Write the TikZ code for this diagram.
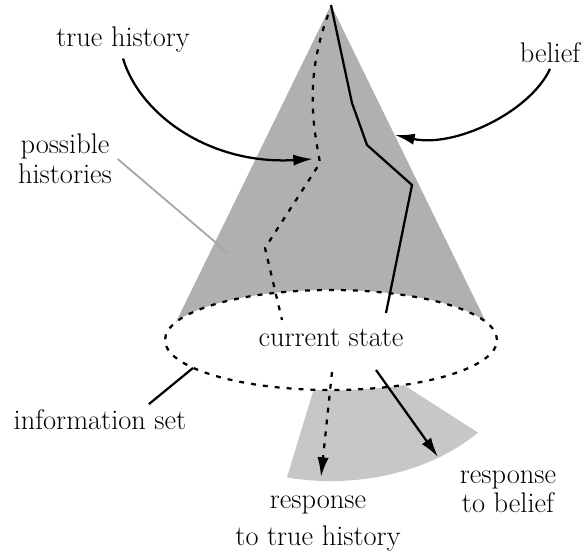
\documentclass[tikz,border=0pt]{standalone}
\usepackage{fontspec}
\usetikzlibrary{arrows.meta}
\begin{document}
\begin{tikzpicture}[font=\fontsize{20.2}{21}\selectfont, line width=1.6pt,
  >={Latex[length=14pt,width=8pt]},
  dots/.style={dash pattern=on 3.5pt off 5pt}]
\useasboundingbox (0,0) rectangle (14.6,13.925);
% cone and response sector
\fill[black!31] (8.275,13.8) -- (4.4,5.875) -- (12.15,5.875) -- cycle;
\fill[black!22] (7.84,4.18) arc[start angle=-96,end angle=-64,x radius=4.15,y radius=1.25]
  -- (11.95,3.11) arc[start angle=-41,end angle=-103,x radius=4.875,y radius=3.525] -- cycle;
\draw[dots, fill=white] (8.275,5.425) ellipse [x radius=4.15, y radius=1.25];
% histories
\draw (8.275,13.8) -- (8.8,11.35) -- (9.175,10.3) -- (10.3,9.3) -- (9.65,6.1);
\draw[dots] (8.2,13.55) .. controls (7.55,11.8) and (7.9,10.5) .. (8.0,9.85)
  -- (6.625,7.725) -- (7.05,5.925);
\draw
  (3.075,12.925) node (truehist) {true history}
  (13.75,12.6) node (belief) {belief}
  (1.625,9.95) node[align=center] (posshist) {possible\\histories}
  (8.275,5.475) node (current) {current state}
  (2.5,3.425) node (infoset) {information set}
  (12.7,1.625) node[align=center] (respbelief) {response\\to belief}
  (7.95,0.8375) node[align=center] (resptrue) {response\\[5pt]to true history}
  ;
\coordinate (thtip) at (7.825,9.95);
\coordinate (beltip) at (9.875,10.55);
\coordinate (posspt) at (5.7,7.6);
\coordinate (infopt) at (4.825,4.725);
\coordinate (rt0) at (8.3,4.625);
\coordinate (rt1) at (8.025,2.0);
\coordinate (rb0) at (9.4,4.675);
\coordinate (rb1) at (10.95,2.5);
\draw[->] (truehist.south) .. controls (3.5,11.05) and (5.25,9.8) .. (thtip);
\draw[->] (belief.south) .. controls (13.25,11.125) and (11.375,10.225) .. (beltip);
\draw[black!35, line width=1.3pt] (posshist.east) -- (posspt);
\draw (infoset.18) -- (infopt);
\draw[->, dots] (rt0) -- (rt1);
\draw[->] (rb0) -- (rb1);
\end{tikzpicture}
\end{document}
